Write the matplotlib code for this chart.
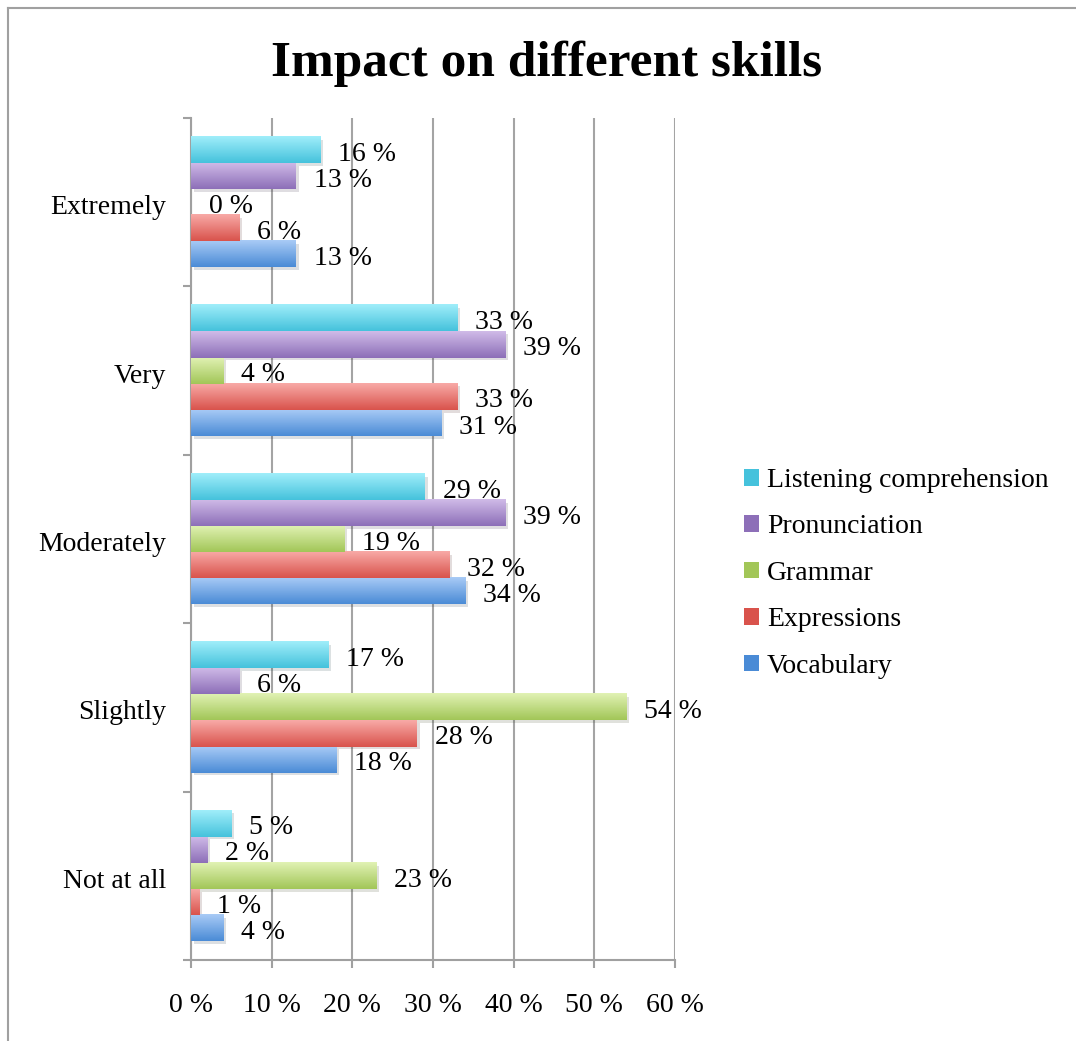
import matplotlib.pyplot as plt
import matplotlib
import numpy as np
from matplotlib.colors import LinearSegmentedColormap
from matplotlib.lines import Line2D
from matplotlib.patches import Patch
import matplotlib.patheffects as pe

matplotlib.rcParams['font.family'] = ['Liberation Serif', 'DejaVu Serif']

categories = ['Not at all', 'Slightly', 'Moderately', 'Very', 'Extremely']
series = ['Vocabulary', 'Expressions', 'Grammar', 'Pronunciation', 'Listening comprehension']
vocabulary = [4, 18, 34, 31, 13]
expressions = [1, 28, 32, 33, 6]
grammar = [23, 54, 19, 4, 0]
pronunciation = [2, 6, 39, 39, 13]
listening = [5, 17, 29, 33, 16]
values = [vocabulary, expressions, grammar, pronunciation, listening]
x_ticks = [0, 10, 20, 30, 40, 50, 60]

# (top, bottom) colour of each gradient bar
colors = [('#a9cbf6', '#4a8bd6'),
          ('#f8aaa7', '#d9534c'),
          ('#e1f2b4', '#a2c658'),
          ('#d0bbe8', '#8d6fb8'),
          ('#a0eefa', '#45c2dc')]

fig = plt.figure(figsize=(10.76, 10.41), dpi=100)
ax = fig.add_axes([0.1775, 0.0778, 0.4498, 0.8088])

h = 0.155
y = np.arange(len(categories))
for i, (name, vals, (top, bot)) in enumerate(zip(series, values, colors)):
    pos = y + (i - 2) * h
    bars = ax.barh(pos, vals, height=h, color=bot, zorder=3, label=name,
                   path_effects=[pe.SimplePatchShadow(offset=(2, -2), alpha=0.15), pe.Normal()])
    cmap = LinearSegmentedColormap.from_list(name, [bot, top])
    grad = np.linspace(0, 1, 64).reshape(-1, 1)
    for b, v in zip(bars, vals):
        x0, y0 = b.get_x(), b.get_y()
        w, hh = b.get_width(), b.get_height()
        if w > 0:
            ax.imshow(grad, cmap=cmap, aspect='auto', origin='lower',
                      extent=(x0, x0 + w, y0, y0 + hh), zorder=4)
        ax.text(v + 2.2, y0 + hh / 2 - 0.025, f'{v} %', va='center', ha='left',
                fontsize=20, zorder=5)

ax.set_xlim(0, 60)
ax.set_ylim(-0.5, 4.5)
ax.set_xticks(x_ticks)
ax.set_xticklabels([f'{t} %' for t in x_ticks], fontsize=20)
ax.set_yticks(y - 0.015)
ax.set_yticklabels(categories, fontsize=20)
ax.set_yticks(np.arange(-0.5, 5, 1), minor=True)
ax.tick_params(axis='y', which='major', length=0, pad=18)
ax.tick_params(axis='y', which='minor', length=6, width=1.5, color='#a0a0a0', direction='out')
ax.tick_params(axis='x', length=6, width=1.5, color='#a0a0a0', direction='out', pad=18)
ax.grid(axis='x', color='#a4a4a4', linewidth=1.5, zorder=0)
ax.set_axisbelow(True)
for s in ['top', 'right']:
    ax.spines[s].set_visible(False)
for s in ['left', 'bottom']:
    ax.spines[s].set_color('#a0a0a0')
    ax.spines[s].set_linewidth(1.5)

handles = [Patch(facecolor=c[1], edgecolor='none', label=n)
           for n, c in zip(series, colors)][::-1]
leg = fig.legend(handles=handles, loc='upper left', bbox_to_anchor=(0.6785, 0.5637),
                 frameon=False, fontsize=20, handlelength=0.54, handleheight=0.54,
                 handletextpad=0.28, labelspacing=0.77, borderpad=0)

fig.text(0.5084, 0.939, 'Impact on different skills', ha='center', va='center',
         fontsize=37, fontweight='bold')

# chart border
fig.add_artist(Line2D([0.0075, 1.0], [1 - 7.5 / 1041] * 2, color='#a0a0a0', lw=1.5))
fig.add_artist(Line2D([0.0075, 0.0075], [0, 1 - 7.5 / 1041], color='#a0a0a0', lw=1.5))

plt.savefig('out.png', dpi=100)
